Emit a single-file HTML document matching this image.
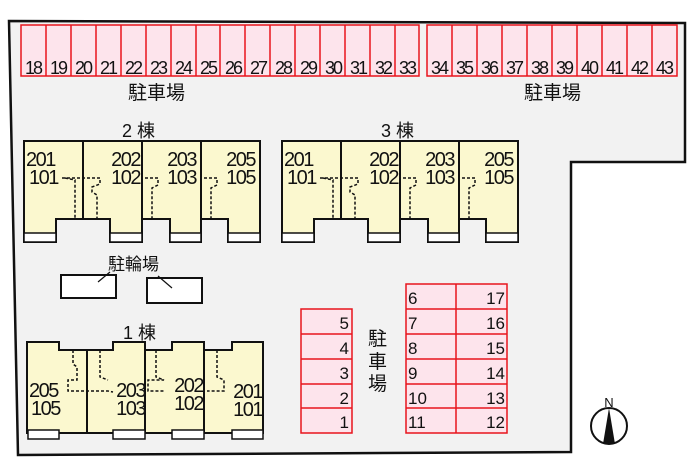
<!DOCTYPE html>
<html><head><meta charset="utf-8"><style>
html,body{margin:0;padding:0;background:#fff}
svg{display:block}
text{font-family:"Liberation Sans","Noto Sans CJK JP",sans-serif;fill:#111}
</style></head><body>
<svg width="700" height="466" viewBox="0 0 700 466" xmlns="http://www.w3.org/2000/svg">
<polygon points="9,21 685,23 685,162 571,162 571,452 18,455" fill="#f2f2f2" stroke="#111" stroke-width="2.5"/>
<g fill="#fde4ec" stroke="#e8141c" stroke-width="1.5">
<rect x="21" y="25" width="398" height="51"/>
<rect x="427" y="25" width="250" height="51"/>
</g>
<g stroke="#e8141c" stroke-width="1.5">
<line x1="46" y1="25" x2="46" y2="76"/><line x1="71" y1="25" x2="71" y2="76"/><line x1="96" y1="25" x2="96" y2="76"/><line x1="121" y1="25" x2="121" y2="76"/><line x1="146" y1="25" x2="146" y2="76"/><line x1="171" y1="25" x2="171" y2="76"/><line x1="196" y1="25" x2="196" y2="76"/><line x1="220" y1="25" x2="220" y2="76"/><line x1="245" y1="25" x2="245" y2="76"/><line x1="270" y1="25" x2="270" y2="76"/><line x1="295" y1="25" x2="295" y2="76"/><line x1="320" y1="25" x2="320" y2="76"/><line x1="345" y1="25" x2="345" y2="76"/><line x1="370" y1="25" x2="370" y2="76"/><line x1="395" y1="25" x2="395" y2="76"/>
<line x1="452" y1="25" x2="452" y2="76"/><line x1="477" y1="25" x2="477" y2="76"/><line x1="502" y1="25" x2="502" y2="76"/><line x1="527" y1="25" x2="527" y2="76"/><line x1="552" y1="25" x2="552" y2="76"/><line x1="577" y1="25" x2="577" y2="76"/><line x1="602" y1="25" x2="602" y2="76"/><line x1="627" y1="25" x2="627" y2="76"/><line x1="652" y1="25" x2="652" y2="76"/>
</g>
<g font-size="18" text-anchor="middle" letter-spacing="-2">
<text x="33" y="74">18</text><text x="58" y="74">19</text><text x="83" y="74">20</text><text x="108" y="74">21</text><text x="133" y="74">22</text><text x="158" y="74">23</text><text x="183" y="74">24</text><text x="208" y="74">25</text><text x="233" y="74">26</text><text x="258" y="74">27</text><text x="283" y="74">28</text><text x="308" y="74">29</text><text x="333" y="74">30</text><text x="358" y="74">31</text><text x="383" y="74">32</text><text x="407" y="74">33</text>
<text x="439" y="74">34</text><text x="464" y="74">35</text><text x="489" y="74">36</text><text x="514" y="74">37</text><text x="539" y="74">38</text><text x="564" y="74">39</text><text x="589" y="74">40</text><text x="614" y="74">41</text><text x="639" y="74">42</text><text x="664" y="74">43</text>
</g>
<text x="128" y="99" font-size="19">駐車場</text>
<text x="524" y="99" font-size="19">駐車場</text>
<text x="122" y="137" font-size="18">2 棟</text>
<text x="381" y="137" font-size="18">3 棟</text>
<text x="123" y="339" font-size="18">1 棟</text>
<text x="108" y="270" font-size="17">駐輪場</text>

<g id="b2">
<path d="M24,141 H260 V242 H228 V219 H201 V242 H170 V219 H142 V242 H110 V219 H56 V242 H24 Z" fill="#fbf8cf" stroke="#111" stroke-width="2"/>
<g fill="#fff" stroke="#111" stroke-width="1.5">
<rect x="24" y="233" width="32" height="9"/><rect x="110" y="233" width="32" height="9"/><rect x="170" y="233" width="31" height="9"/><rect x="228" y="233" width="32" height="9"/></g>
<g stroke="#111" stroke-width="2"><line x1="83" y1="141" x2="83" y2="219"/><line x1="142" y1="141" x2="142" y2="233"/><line x1="201" y1="141" x2="201" y2="233"/></g>
<g stroke="#111" stroke-width="1.5" stroke-dasharray="3,2" fill="none">
<path d="M62,178 H100 V184 L92,187 V192 L97,195 V219"/>
<path d="M65,178 L75,180 V219"/>
<path d="M145,178 H158 V185 L152,188 V219"/>
<path d="M204,178 H217 V185 L211,188 V219"/>
</g>
<g font-size="20" letter-spacing="-1.5">
<text x="26" y="166">201</text><text x="29" y="184">101</text>
<text x="140" y="166" text-anchor="end">202</text><text x="140" y="184" text-anchor="end">102</text>
<text x="196" y="166" text-anchor="end">203</text><text x="196" y="184" text-anchor="end">103</text>
<text x="255" y="166" text-anchor="end">205</text><text x="255" y="184" text-anchor="end">105</text>
</g>
</g>
<use href="#b2" x="258"/>

<rect x="61" y="275" width="55" height="23" fill="#fff" stroke="#111" stroke-width="2"/>
<rect x="147" y="278" width="55" height="25" fill="#fff" stroke="#111" stroke-width="2"/>
<line x1="98" y1="282" x2="110" y2="272" stroke="#111" stroke-width="1.2"/>
<line x1="172" y1="288" x2="158" y2="276" stroke="#111" stroke-width="1.2"/>

<path d="M27,342 H59 V350 H113 V342 H145 V350 H172 V342 H204 V350 H232 V342 H263 V433 H27 Z" fill="#fbf8cf" stroke="#111" stroke-width="2"/>
<g stroke="#111" stroke-width="2"><line x1="87" y1="350" x2="87" y2="433"/><line x1="145" y1="342" x2="145" y2="433"/><line x1="204" y1="350" x2="204" y2="433"/></g>
<g fill="#fff" stroke="#111" stroke-width="1.5">
<rect x="28" y="430" width="31" height="9"/><rect x="113" y="430" width="32" height="9"/><rect x="172" y="430" width="32" height="9"/><rect x="232" y="430" width="31" height="9"/></g>
<g stroke="#111" stroke-width="1.5" stroke-dasharray="3,2" fill="none">
<path d="M73,350 V364 L77,367 V380 H68 V391 H108 L113,392"/>
<path d="M100,350 V377 L108,380"/>
<path d="M156,350 V377 L164,380 H148 V391 H165"/>
<path d="M217,350 V377 L224,380 V391 H207"/>
</g>
<g font-size="20" letter-spacing="-1.5">
<text x="29" y="397">205</text><text x="31" y="415">105</text>
<text x="145" y="397" text-anchor="end">203</text><text x="145" y="415" text-anchor="end">103</text>
<text x="203" y="392" text-anchor="end">202</text><text x="203" y="410" text-anchor="end">102</text>
<text x="262" y="398" text-anchor="end">201</text><text x="262" y="416" text-anchor="end">101</text>
</g>

<rect x="301" y="309" width="51" height="124" fill="#fde4ec" stroke="#e8141c" stroke-width="1.5"/>
<g stroke="#e8141c" stroke-width="1.5"><line x1="301" y1="334" x2="352" y2="334"/><line x1="301" y1="359" x2="352" y2="359"/><line x1="301" y1="384" x2="352" y2="384"/><line x1="301" y1="408" x2="352" y2="408"/></g>
<g font-size="17" text-anchor="end"><text x="349" y="329">5</text><text x="349" y="354">4</text><text x="349" y="379">3</text><text x="349" y="404">2</text><text x="349" y="428">1</text></g>
<g font-size="19"><text x="368" y="345">駐</text><text x="368" y="368">車</text><text x="368" y="390">場</text></g>

<rect x="406" y="284" width="101" height="149" fill="#fde4ec" stroke="#e8141c" stroke-width="1.5"/>
<g stroke="#e8141c" stroke-width="1.5"><line x1="456" y1="284" x2="456" y2="433"/><line x1="406" y1="309" x2="507" y2="309"/><line x1="406" y1="334" x2="507" y2="334"/><line x1="406" y1="359" x2="507" y2="359"/><line x1="406" y1="384" x2="507" y2="384"/><line x1="406" y1="408" x2="507" y2="408"/></g>
<g font-size="17"><text x="408" y="304">6</text><text x="408" y="329">7</text><text x="408" y="354">8</text><text x="408" y="379">9</text><text x="408" y="404">10</text><text x="408" y="428">11</text></g>
<g font-size="17" text-anchor="end"><text x="505" y="304">17</text><text x="505" y="329">16</text><text x="505" y="354">15</text><text x="505" y="379">14</text><text x="505" y="404">13</text><text x="505" y="428">12</text></g>

<circle cx="609" cy="426" r="18" fill="#fff" stroke="#111" stroke-width="2"/>
<polygon points="609,408 603,444 615,444" fill="#111"/>
<text x="609" y="407" font-size="13" text-anchor="middle">N</text>
</svg>
</body></html>
